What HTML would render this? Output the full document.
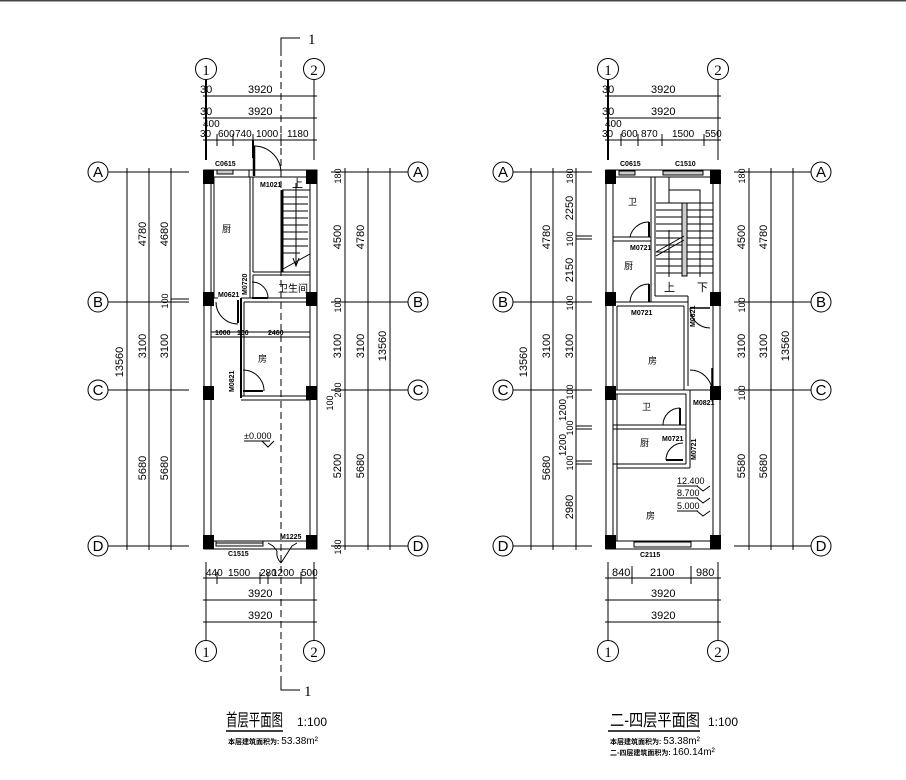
<!DOCTYPE html>
<html><head><meta charset="utf-8"><style>
html,body{margin:0;padding:0;background:#fff;}
svg{display:block;}
text{font-family:"Liberation Sans","Noto Sans CJK SC",sans-serif;fill:#000;}
.d{font-size:11px;}
.t{font-size:10px;}
.s{font-size:7px;font-weight:bold;}
.c{font-family:"Liberation Serif",serif;font-size:15px;}
</style></head><body>
<svg width="906" height="780" viewBox="0 0 906 780" xmlns="http://www.w3.org/2000/svg" stroke="#000" fill="none" stroke-width="1">
<line x1="0" y1="0.5" x2="906" y2="0.5" stroke="#444" stroke-width="2"/>

<line x1="281" y1="38" x2="281" y2="690" stroke-dasharray="7,4"/>
<polyline points="300,38 281,38 281,50"/>
<polyline points="300,690 281,690 281,678"/>
<text x="308" y="44" class="c" stroke="none" font-size="14">1</text>
<text x="304" y="696" class="c" stroke="none" font-size="14">1</text>

<circle cx="206" cy="69" r="10.5"/><text x="206" y="75" class="c" text-anchor="middle" stroke="none">1</text>
<circle cx="314" cy="69" r="10.5"/><text x="314" y="75" class="c" text-anchor="middle" stroke="none">2</text>
<line x1="206" y1="80" x2="206" y2="160" stroke-width="2"/>
<line x1="314" y1="80" x2="314" y2="160"/>
<g stroke-width="1">
<line x1="203" y1="96" x2="317" y2="96"/><line x1="203" y1="118" x2="317" y2="118"/><line x1="203" y1="140" x2="317" y2="140"/>
<line x1="217" y1="134" x2="217" y2="146"/><line x1="233" y1="134" x2="233" y2="146"/><line x1="253" y1="134" x2="253" y2="146"/><line x1="281" y1="134" x2="281" y2="146"/>
<line x1="253" y1="140" x2="253" y2="158" stroke-width="2"/>
</g>
<g class="d" stroke="none">
<text x="200" y="93">30</text><text x="248" y="93">3920</text>
<text x="200" y="115">30</text><text x="248" y="115">3920</text>
<text x="203" y="127" class="t">400</text>
</g>
<g class="t" stroke="none">
<text x="200" y="137">30</text><text x="218" y="137">600</text><text x="235" y="137">740</text><text x="256" y="137">1000</text><text x="287" y="137">1180</text>
</g>

<g stroke-width="1">
<rect x="204" y="170" width="113" height="379"/>
<rect x="211" y="177" width="99" height="364"/>
<line x1="214" y1="177" x2="214" y2="298"/>
<line x1="250" y1="177" x2="250" y2="298"/><line x1="253" y1="177" x2="253" y2="272"/>
<line x1="249" y1="170" x2="249" y2="177"/>
<line x1="253" y1="272" x2="310" y2="272"/><line x1="253" y1="275" x2="310" y2="275"/>
<line x1="253" y1="275" x2="253" y2="298"/>
<line x1="241" y1="298" x2="310" y2="298"/><line x1="244" y1="302" x2="310" y2="302"/>
<line x1="211" y1="298" x2="218" y2="298"/><line x1="211" y1="302" x2="214" y2="302"/>
<line x1="241" y1="298" x2="241" y2="398" stroke-width="2"/><line x1="244" y1="302" x2="244" y2="396"/>
<line x1="211" y1="332" x2="310" y2="332"/><line x1="211" y1="337" x2="310" y2="337"/>
<line x1="241" y1="396" x2="310" y2="396"/><line x1="241" y1="400" x2="310" y2="400"/>
</g>
<g fill="#000" stroke="none">
<rect x="203" y="170" width="11" height="14"/><rect x="306" y="170" width="11" height="14"/>
<rect x="203" y="292" width="11" height="14"/><rect x="306" y="292" width="11" height="14"/>
<rect x="203" y="386" width="11" height="14"/><rect x="306" y="386" width="11" height="14"/>
<rect x="203" y="535" width="11" height="14"/><rect x="306" y="535" width="11" height="14"/>
</g>
<rect x="217" y="170" width="16" height="4" fill="#ccc"/>
<line x1="254" y1="146" x2="254" y2="176" stroke-width="2.5"/>
<path d="M254,146 A27,27 0 0 1 281,173"/>
<g>
<line x1="282" y1="190" x2="282" y2="272" stroke-width="3"/>
<line x1="282" y1="190" x2="310" y2="190"/>
<line x1="282" y1="197" x2="308" y2="197"/><line x1="282" y1="204" x2="308" y2="204"/><line x1="282" y1="211" x2="308" y2="211"/><line x1="282" y1="218" x2="308" y2="218"/><line x1="282" y1="225" x2="308" y2="225"/><line x1="282" y1="232" x2="308" y2="232"/><line x1="282" y1="239" x2="308" y2="239"/><line x1="282" y1="246" x2="308" y2="246"/><line x1="282" y1="253" x2="300" y2="253"/>
<line x1="283" y1="269" x2="310" y2="254"/>
<line x1="296" y1="183" x2="296" y2="266"/><polyline points="293,258 296,266 299,258"/>
</g>
<text x="292" y="187" font-size="11" stroke="none">上</text>
<line x1="252" y1="298" x2="268" y2="298" stroke-width="2"/><path d="M252,282 A16,16 0 0 1 268,298"/>
<line x1="238" y1="300" x2="238" y2="323" stroke-width="2"/><path d="M216,302 A22,22 0 0 0 238,324"/>
<line x1="243" y1="391" x2="263" y2="391" stroke-width="2"/><path d="M243,370 A21,21 0 0 1 264,391"/>
<rect x="216" y="541" width="47" height="5" fill="#eee"/>
<line x1="216" y1="543" x2="263" y2="543"/>
<polyline points="268,543 273,546 277,551"/>
<path d="M277,551 A14,14 0 0 0 281,563"/>
<polyline points="297,543 292,546 281,563"/>
<g class="s" stroke="none">
<text x="215" y="166">C0615</text>
<text x="260" y="187">M1021</text>
<text x="218" y="297">M0621</text>
<text x="228" y="556">C1515</text>
<text x="280" y="539">M1225</text>
<text x="215" y="335">1000</text><text x="237" y="335">100</text><text x="268" y="335">2460</text>
<text x="0" y="0" transform="translate(247,295) rotate(-90)">M0720</text>
<text x="0" y="0" transform="translate(234,392) rotate(-90)">M0821</text>
</g>
<text x="278" y="292" font-size="10" stroke="none">卫生间</text>
<text x="222" y="232" font-size="9" stroke="none">厨</text>
<text x="258" y="362" font-size="9" stroke="none">房</text>
<text x="244" y="439" font-size="9" stroke="none">±0.000</text>
<line x1="244" y1="441" x2="270" y2="441"/><polyline points="262,441 268,447 274,441"/>

<g>
<circle cx="98" cy="172" r="10"/><circle cx="98" cy="302" r="10"/><circle cx="98" cy="390" r="10"/><circle cx="98" cy="546" r="10"/>
<line x1="108" y1="172" x2="189" y2="172"/><line x1="108" y1="302" x2="189" y2="302"/><line x1="108" y1="390" x2="189" y2="390"/><line x1="108" y1="546" x2="189" y2="546"/>
<line x1="127" y1="168" x2="127" y2="550"/><line x1="149" y1="168" x2="149" y2="550"/><line x1="171" y1="168" x2="171" y2="550"/>
<line x1="171" y1="299" x2="189" y2="299"/>
</g>
<g class="c" text-anchor="middle" stroke="none" font-size="14">
<text x="98" y="177">A</text><text x="98" y="307">B</text><text x="98" y="395">C</text><text x="98" y="551">D</text>
</g>
<g class="d" stroke="none" text-anchor="middle">
<text transform="translate(123,362) rotate(-90)">13560</text>
<text transform="translate(146,234) rotate(-90)">4780</text><text transform="translate(168,234) rotate(-90)">4680</text>
<text transform="translate(146,346) rotate(-90)">3100</text><text transform="translate(168,346) rotate(-90)">3100</text>
<text transform="translate(168,301) rotate(-90)" font-size="9">100</text>
<text transform="translate(146,468) rotate(-90)">5680</text><text transform="translate(168,468) rotate(-90)">5680</text>
</g>
<g>
<circle cx="418" cy="172" r="10"/><circle cx="418" cy="302" r="10"/><circle cx="418" cy="390" r="10"/><circle cx="418" cy="546" r="10"/>
<line x1="331" y1="172" x2="408" y2="172"/><line x1="331" y1="302" x2="408" y2="302"/><line x1="331" y1="390" x2="408" y2="390"/><line x1="331" y1="546" x2="408" y2="546"/>
<line x1="345" y1="168" x2="345" y2="550"/><line x1="368" y1="168" x2="368" y2="550"/><line x1="390" y1="168" x2="390" y2="550"/>
</g>
<g class="c" text-anchor="middle" stroke="none" font-size="14">
<text x="418" y="177">A</text><text x="418" y="307">B</text><text x="418" y="395">C</text><text x="418" y="551">D</text>
</g>
<g class="d" stroke="none" text-anchor="middle">
<text transform="translate(341,176) rotate(-90)" font-size="9">180</text>
<text transform="translate(341,237) rotate(-90)">4500</text><text transform="translate(364,237) rotate(-90)">4780</text>
<text transform="translate(341,305) rotate(-90)" font-size="9">100</text>
<text transform="translate(341,346) rotate(-90)">3100</text><text transform="translate(364,346) rotate(-90)">3100</text>
<text transform="translate(386,346) rotate(-90)">13560</text>
<text transform="translate(341,390) rotate(-90)" font-size="9">200</text>
<text transform="translate(333,403) rotate(-90)" font-size="9">100</text>
<text transform="translate(341,466) rotate(-90)">5200</text><text transform="translate(364,466) rotate(-90)">5680</text>
<text transform="translate(341,547) rotate(-90)" font-size="9">180</text>
</g>
<g>
<line x1="203" y1="578" x2="317" y2="578"/><line x1="203" y1="600" x2="317" y2="600"/><line x1="203" y1="622" x2="317" y2="622"/>
<line x1="206" y1="562" x2="206" y2="640"/><line x1="314" y1="562" x2="314" y2="640"/>
<line x1="217" y1="572" x2="217" y2="584"/><line x1="260" y1="572" x2="260" y2="584"/><line x1="268" y1="572" x2="268" y2="584"/><line x1="301" y1="572" x2="301" y2="584"/>
<circle cx="206" cy="651" r="10.5"/><circle cx="314" cy="651" r="10.5"/>
</g>
<g class="t" stroke="none">
<text x="206" y="576">440</text><text x="228" y="576">1500</text><text x="260" y="576">280</text><text x="272" y="576">1200</text><text x="301" y="576">500</text>
</g>
<g class="d" stroke="none">
<text x="248" y="597">3920</text><text x="248" y="619">3920</text>
</g>
<text x="206" y="657" class="c" text-anchor="middle" stroke="none">1</text>
<text x="314" y="657" class="c" text-anchor="middle" stroke="none">2</text>

<text x="226" y="726" font-size="17" stroke="none" textLength="57" lengthAdjust="spacingAndGlyphs">首层平面图</text>
<text x="297" y="726" font-size="12" stroke="none">1:100</text>
<line x1="226" y1="731" x2="283" y2="731" stroke-width="1.5"/>
<text x="228" y="744" class="s" font-size="8" stroke="none">本层建筑面积为: <tspan font-weight="normal" font-size="10">53.38m²</tspan></text>

<circle cx="608" cy="69" r="10.5"/><text x="608" y="75" class="c" text-anchor="middle" stroke="none">1</text>
<circle cx="718" cy="69" r="10.5"/><text x="718" y="75" class="c" text-anchor="middle" stroke="none">2</text>
<line x1="608" y1="80" x2="608" y2="160" stroke-width="2"/>
<line x1="718" y1="80" x2="718" y2="160"/>
<line x1="605" y1="96" x2="721" y2="96"/><line x1="605" y1="118" x2="721" y2="118"/><line x1="605" y1="140" x2="721" y2="140"/>
<line x1="621" y1="134" x2="621" y2="146"/><line x1="638" y1="134" x2="638" y2="146"/><line x1="662" y1="134" x2="662" y2="146"/><line x1="704" y1="134" x2="704" y2="146"/>
<g class="d" stroke="none">
<text x="602" y="93">30</text><text x="651" y="93">3920</text>
<text x="602" y="115">30</text><text x="651" y="115">3920</text>
<text x="605" y="127" class="t">400</text>
</g>
<g class="t" stroke="none">
<text x="602" y="137">30</text><text x="621" y="137">600</text><text x="641" y="137">870</text><text x="672" y="137">1500</text><text x="705" y="137">550</text>
</g>
<g>
<rect x="606" y="170" width="114" height="379"/>
<rect x="613" y="177" width="100" height="364"/>
<line x1="651" y1="177" x2="651" y2="302"/><line x1="655" y1="177" x2="655" y2="296"/>
<line x1="613" y1="237" x2="651" y2="237"/><line x1="613" y1="241" x2="651" y2="241"/>
<line x1="655" y1="296" x2="688" y2="296"/>
<line x1="613" y1="302" x2="688" y2="302"/><line x1="617" y1="306" x2="684" y2="306"/>
<line x1="688" y1="296" x2="688" y2="386"/><line x1="684" y1="306" x2="684" y2="390"/>
<line x1="617" y1="306" x2="617" y2="390"/>
<line x1="613" y1="390" x2="713" y2="390"/><line x1="613" y1="394" x2="686" y2="394"/>
<line x1="686" y1="394" x2="686" y2="464"/><line x1="690" y1="390" x2="690" y2="468"/>
<line x1="613" y1="425" x2="686" y2="425"/><line x1="613" y1="429" x2="686" y2="429"/>
<line x1="613" y1="464" x2="686" y2="464"/><line x1="617" y1="468" x2="690" y2="468"/>
<line x1="617" y1="394" x2="617" y2="541"/>
<rect x="669" y="190" width="31" height="13"/>
<line x1="656" y1="203" x2="713" y2="203"/><line x1="656" y1="210" x2="713" y2="210"/><line x1="656" y1="217" x2="713" y2="217"/><line x1="656" y1="224" x2="713" y2="224"/><line x1="656" y1="231" x2="713" y2="231"/><line x1="656" y1="238" x2="713" y2="238"/><line x1="656" y1="245" x2="713" y2="245"/><line x1="656" y1="252" x2="713" y2="252"/><line x1="656" y1="259" x2="713" y2="259"/><line x1="656" y1="266" x2="713" y2="266"/><line x1="656" y1="273" x2="713" y2="273"/>
<rect x="682" y="203" width="5" height="73" fill="#ccc"/>
<line x1="656" y1="252" x2="684" y2="236"/><line x1="656" y1="256" x2="684" y2="240"/>
<line x1="669" y1="230" x2="669" y2="277"/><line x1="700" y1="203" x2="700" y2="277"/>
<line x1="669" y1="177" x2="669" y2="190"/>
</g>
<text x="664" y="291" font-size="11" stroke="none">上</text>
<text x="697" y="291" font-size="11" stroke="none">下</text>
<g fill="#000" stroke="none">
<rect x="605" y="170" width="11" height="14"/><rect x="710" y="170" width="11" height="14"/>
<rect x="605" y="292" width="11" height="14"/><rect x="710" y="292" width="11" height="14"/>
<rect x="605" y="386" width="11" height="14"/><rect x="710" y="386" width="11" height="14"/>
<rect x="605" y="535" width="11" height="14"/><rect x="710" y="535" width="11" height="14"/>
</g>
<rect x="619" y="171" width="16" height="4" fill="#ccc"/>
<rect x="663" y="171" width="40" height="4" fill="#ccc"/>
<rect x="634" y="542" width="57" height="5" fill="#eee"/>
<line x1="649" y1="222" x2="649" y2="237" stroke-width="2"/><path d="M630,237 A19,19 0 0 1 649,222"/>
<line x1="649" y1="284" x2="649" y2="302" stroke-width="2"/><path d="M630,302 A19,19 0 0 1 649,284"/>
<line x1="690" y1="308" x2="710" y2="308" stroke-width="1.5"/><path d="M690,308 A20,20 0 0 0 710,328"/>
<line x1="712" y1="368" x2="712" y2="390" stroke-width="1.5"/><path d="M690,370 A22,22 0 0 1 712,390"/>
<line x1="680" y1="408" x2="680" y2="425" stroke-width="2"/><path d="M663,425 A17,17 0 0 1 680,408"/>
<line x1="666" y1="460" x2="683" y2="460" stroke-width="2"/><path d="M666,460 A17,17 0 0 1 683,443"/>
<g class="s" stroke="none">
<text x="620" y="166">C0615</text><text x="675" y="166">C1510</text>
<text x="630" y="250">M0721</text><text x="631" y="315">M0721</text>
<text x="693" y="405">M0821</text><text x="662" y="441">M0721</text>
<text x="640" y="557">C2115</text>
<text transform="translate(695,327) rotate(-90)">M0821</text>
<text transform="translate(696,460) rotate(-90)">M0721</text>
</g>
<g font-size="9" stroke="none">
<text x="628" y="205">卫</text><text x="624" y="269">厨</text><text x="648" y="364">房</text>
<text x="642" y="410">卫</text><text x="640" y="446">厨</text><text x="646" y="519">房</text>
</g>
<g font-size="9" stroke="none">
<text x="677" y="484">12.400</text><text x="677" y="496">8.700</text><text x="677" y="509">5.000</text>
</g>
<line x1="677" y1="486" x2="698" y2="486"/><polyline points="697,486 703,491 710,486"/>
<line x1="677" y1="498" x2="698" y2="498"/><polyline points="697,498 703,503 710,498"/>
<line x1="677" y1="511" x2="698" y2="511"/><polyline points="697,511 703,516 710,511"/>

<g>
<circle cx="503" cy="172" r="10"/><circle cx="503" cy="302" r="10"/><circle cx="503" cy="390" r="10"/><circle cx="503" cy="546" r="10"/>
<line x1="513" y1="172" x2="592" y2="172"/><line x1="513" y1="302" x2="592" y2="302"/><line x1="513" y1="390" x2="592" y2="390"/><line x1="513" y1="546" x2="592" y2="546"/>
<line x1="531" y1="168" x2="531" y2="550"/><line x1="553" y1="168" x2="553" y2="550"/><line x1="576" y1="168" x2="576" y2="550"/>
<line x1="576" y1="236" x2="592" y2="236"/><line x1="576" y1="239" x2="592" y2="239"/>
<line x1="576" y1="426" x2="592" y2="426"/><line x1="576" y1="429" x2="592" y2="429"/>
<line x1="576" y1="461" x2="592" y2="461"/><line x1="576" y1="464" x2="592" y2="464"/>
</g>
<g class="c" text-anchor="middle" stroke="none" font-size="14">
<text x="503" y="177">A</text><text x="503" y="307">B</text><text x="503" y="395">C</text><text x="503" y="551">D</text>
</g>
<g class="d" stroke="none" text-anchor="middle">
<text transform="translate(527,362) rotate(-90)">13560</text>
<text transform="translate(550,237) rotate(-90)">4780</text>
<text transform="translate(550,346) rotate(-90)">3100</text><text transform="translate(573,346) rotate(-90)">3100</text>
<text transform="translate(550,468) rotate(-90)">5680</text>
<text transform="translate(573,176) rotate(-90)" font-size="9">180</text>
<text transform="translate(573,208) rotate(-90)">2250</text>
<text transform="translate(573,239) rotate(-90)" font-size="9">100</text>
<text transform="translate(573,270) rotate(-90)">2150</text>
<text transform="translate(573,303) rotate(-90)" font-size="9">100</text>
<text transform="translate(573,392) rotate(-90)" font-size="9">100</text>
<text transform="translate(566,410) rotate(-90)" font-size="10">1200</text>
<text transform="translate(573,428) rotate(-90)" font-size="9">100</text>
<text transform="translate(566,445) rotate(-90)" font-size="10">1200</text>
<text transform="translate(573,463) rotate(-90)" font-size="9">100</text>
<text transform="translate(573,507) rotate(-90)">2980</text>
</g>
<g>
<circle cx="821" cy="172" r="10"/><circle cx="821" cy="302" r="10"/><circle cx="821" cy="390" r="10"/><circle cx="821" cy="546" r="10"/>
<line x1="734" y1="172" x2="811" y2="172"/><line x1="734" y1="302" x2="811" y2="302"/><line x1="734" y1="390" x2="811" y2="390"/><line x1="734" y1="546" x2="811" y2="546"/>
<line x1="749" y1="168" x2="749" y2="550"/><line x1="771" y1="168" x2="771" y2="550"/><line x1="793" y1="168" x2="793" y2="550"/>
</g>
<g class="c" text-anchor="middle" stroke="none" font-size="14">
<text x="821" y="177">A</text><text x="821" y="307">B</text><text x="821" y="395">C</text><text x="821" y="551">D</text>
</g>
<g class="d" stroke="none" text-anchor="middle">
<text transform="translate(745,176) rotate(-90)" font-size="9">180</text>
<text transform="translate(745,237) rotate(-90)">4500</text><text transform="translate(767,237) rotate(-90)">4780</text>
<text transform="translate(745,305) rotate(-90)" font-size="9">100</text>
<text transform="translate(745,346) rotate(-90)">3100</text><text transform="translate(767,346) rotate(-90)">3100</text>
<text transform="translate(789,346) rotate(-90)">13560</text>
<text transform="translate(745,393) rotate(-90)" font-size="9">100</text>
<text transform="translate(745,466) rotate(-90)">5580</text><text transform="translate(767,466) rotate(-90)">5680</text>
</g>
<g>
<line x1="605" y1="578" x2="721" y2="578"/><line x1="605" y1="600" x2="721" y2="600"/><line x1="605" y1="622" x2="721" y2="622"/>
<line x1="608" y1="562" x2="608" y2="640"/><line x1="718" y1="562" x2="718" y2="640"/>
<line x1="632" y1="566" x2="632" y2="584"/><line x1="691" y1="566" x2="691" y2="584"/>
<circle cx="608" cy="651" r="10.5"/><circle cx="718" cy="651" r="10.5"/>
</g>
<g class="d" stroke="none">
<text x="612" y="576">840</text><text x="650" y="576">2100</text><text x="696" y="576">980</text>
<text x="651" y="597">3920</text><text x="651" y="619">3920</text>
</g>
<text x="608" y="657" class="c" text-anchor="middle" stroke="none">1</text>
<text x="718" y="657" class="c" text-anchor="middle" stroke="none">2</text>

<text x="610" y="726" font-size="17" stroke="none" textLength="90" lengthAdjust="spacingAndGlyphs">二-四层平面图</text>
<text x="708" y="726" font-size="12" stroke="none">1:100</text>
<line x1="608" y1="731" x2="700" y2="731" stroke-width="1.5"/>
<text x="610" y="744" class="s" font-size="8" stroke="none">本层建筑面积为: <tspan font-weight="normal" font-size="10">53.38m²</tspan></text>
<text x="610" y="755" class="s" font-size="8" stroke="none">二-四层建筑面积为: <tspan font-weight="normal" font-size="10">160.14m²</tspan></text>
</svg>
</body></html>
